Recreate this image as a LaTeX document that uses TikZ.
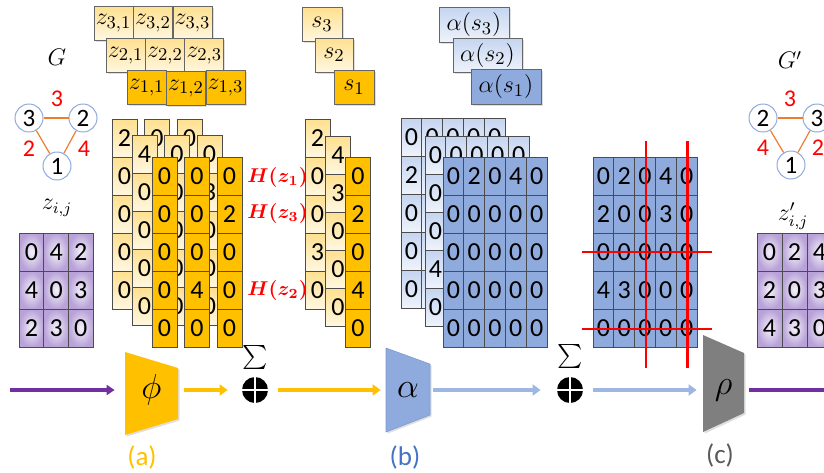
\documentclass[tikz,border=0pt]{standalone}
\usepackage{amsmath}
\usepackage{fontspec}
\setmainfont{Carlito}
\usetikzlibrary{arrows.meta,shadows}
\definecolor{gold}{HTML}{FFC000}
\definecolor{goldlt}{HTML}{FFE08F}
\definecolor{goldpale}{HTML}{FFF7E1}
\definecolor{bluecell}{HTML}{8FAADC}
\definecolor{bluelt}{HTML}{C5D5F0}
\definecolor{bluepale}{HTML}{EEF3FB}
\definecolor{lilac}{HTML}{B8A2D8}
\definecolor{lilacpale}{HTML}{F5F2FA}
\definecolor{edgeor}{HTML}{ED7D31}
\definecolor{linepurple}{HTML}{7030A0}
\definecolor{labblue}{HTML}{4472C4}
\definecolor{labgrey}{HTML}{595959}
\definecolor{rhogrey}{HTML}{7F7F7F}
\definecolor{arrblue}{HTML}{9DB6E2}
\newcommand{\cellgrid}[6]{%
  \foreach \rowvals [count=\r] in {#6} {%
    \foreach \v [count=\c] in \rowvals {%
      \node[#4] (#5-\r-\c) at ({#1+(\c-1)*#3},{#2+(\r-1)*38}) {\v};}}}
\begin{document}
\begin{tikzpicture}[x=0.5pt, y=-0.5pt,
  cellbase/.style={draw=black!70, line width=0.4pt, inner sep=0pt, minimum height=19pt, font=\fontsize{13}{15}\selectfont},
  fillpg/.style={top color=goldlt, bottom color=goldpale},
  fillpb/.style={top color=bluelt, bottom color=bluepale},
  goldcell/.style={cellbase, fill=gold, minimum width=12.5pt},
  palegold/.style={cellbase, fillpg, minimum width=12.5pt},
  bluecellst/.style={cellbase, fill=bluecell, minimum width=10.4pt},
  paleblue/.style={cellbase, fillpb, minimum width=10.4pt},
  lilaccell/.style={cellbase, inner color=lilacpale, outer color=lilac, minimum width=12.4pt},
  topbox/.style={draw=black!60, line width=0.4pt, inner sep=0pt, minimum height=17pt, font=\fontsize{12.5}{14}\selectfont, drop shadow={opacity=.25, shadow xshift=.8pt, shadow yshift=-.8pt}},
  gnode/.style={circle, draw=bluecell, fill=white, line width=0.5pt, minimum size=14pt, inner sep=0pt, font=\fontsize{12.5}{14}\selectfont},
  gedge/.style={draw=edgeor, line width=0.6pt},
  elab/.style={text=red, font=\fontsize{12}{14}\selectfont},
  mlab/.style={font=\fontsize{12}{14}\selectfont},
  hlab/.style={anchor=west, text=red, inner sep=0pt, font=\fontsize{10}{12}\selectfont},
  opnode/.style={inner sep=0pt, minimum height=25pt, font=\fontsize{18}{20}\selectfont},
  sumdot/.style={circle, fill=black, minimum size=13pt, inner sep=0pt, path picture={\draw[white, line width=0.9pt] (path picture bounding box.north) -- (path picture bounding box.south) (path picture bounding box.west) -- (path picture bounding box.east);}},
  violetarr/.style={draw=linepurple, line width=1.6pt, -{Triangle[length=4pt, width=5pt]}},
  goldarr/.style={draw=gold, line width=1.8pt, -{Triangle[length=4pt, width=5.5pt]}},
  bluearr/.style={draw=arrblue, line width=1.8pt, -{Triangle[length=4pt, width=5.5pt]}},
  redline/.style={draw=red, line width=1.4pt},
  tag/.style={font=\fontsize{13.5}{15}\selectfont}]
\useasboundingbox (0,0) rectangle (824,472);
\clip (0,0) rectangle (824,472);
\node[mlab] (gl) at (57,57){$G$};
\node[gnode] (g3) at (29,118){3};
\node[gnode] (g2) at (83,118){2};
\node[gnode] (g1) at (57,166){1};
\draw[gedge] (g3) -- (g2);
\draw[gedge] (g3) -- (g1);
\draw[gedge] (g2) -- (g1);
\node[elab] (w32) at (57,99){3};
\node[elab] (w31) at (29,149){2};
\node[elab] (w21) at (84,149){4};
\node[mlab] (zl) at (57,208){$z_{i,j}$};
\cellgrid{31.4}{252}{24.7}{lilaccell}{zm}{{0,4,2},{4,0,3},{2,3,0}}
\node[topbox, fillpg, minimum width=19.5pt] (z31) at (113.6,23){$z_{3,1}$};
\node[topbox, fillpg, minimum width=19.5pt] (z32) at (153,23){$z_{3,2}$};
\node[topbox, fillpg, minimum width=19.5pt] (z33) at (192.5,23){$z_{3,3}$};
\node[topbox, fillpg, minimum width=19.5pt] (z21) at (125.7,55.5){$z_{2,1}$};
\node[topbox, fillpg, minimum width=19.5pt] (z22) at (165,55.5){$z_{2,2}$};
\node[topbox, fillpg, minimum width=19.5pt] (z23) at (204.3,55.5){$z_{2,3}$};
\node[topbox, fill=gold, minimum width=19.5pt] (z11) at (146.7,87.5){$z_{1,1}$};
\node[topbox, fill=gold, minimum width=19.5pt] (z12) at (186,88.5){$z_{1,2}$};
\node[topbox, fill=gold, minimum width=19.5pt] (z13) at (225.5,87.5){$z_{1,3}$};
\cellgrid{124.5}{138}{32.5}{palegold}{lb}{{2,0,0},{0,0,0},{0,0,0},{0,0,3},{0,0,0}}
\cellgrid{144.5}{154}{32.5}{palegold}{lm}{{4,0,0},{0,0,3},{0,0,0},{0,0,0},{0,0,0}}
\cellgrid{164.5}{176}{32.5}{goldcell}{lf}{{0,0,0},{0,0,2},{0,0,0},{0,4,0},{0,0,0}}
\node[hlab] (h1) at (247,177){$\boldsymbol{H(z_1)}$};
\node[hlab] (h3) at (247,213){$\boldsymbol{H(z_3)}$};
\node[hlab] (h2) at (247,290){$\boldsymbol{H(z_2)}$};
\node[topbox, fillpg, minimum width=20pt] (s3) at (322,24.5){$s_3$};
\node[topbox, fillpg, minimum width=19pt] (s2) at (334,55){$s_2$};
\node[topbox, fill=gold, minimum width=20pt] (s1) at (354,87.5){$s_1$};
\cellgrid{317.5}{138}{0}{palegold}{sb}{{2},{0},{0},{3},{0}}
\cellgrid{338}{155}{0}{palegold}{sm}{{4},{3},{0},{0},{0}}
\cellgrid{358}{176}{0}{goldcell}{sf}{{0},{2},{0},{4},{0}}
\node[topbox, fillpb, minimum width=35pt, minimum height=17.5pt] (a3) at (474,24.5){$\alpha(s_3)$};
\node[topbox, fillpb, minimum width=34.5pt] (a2) at (487.5,55){$\alpha(s_2)$};
\node[topbox, fill=bluecell, minimum width=35pt, minimum height=17.5pt] (a1) at (506,86.5){$\alpha(s_1)$};
\cellgrid{411.4}{137}{20.8}{paleblue}{ab}{{0,0,0,0,0},{2,0,0,3,0},{0,0,0,0,0},{0,0,0,0,0},{0,0,0,0,0}}
\cellgrid{435.4}{155}{20.8}{paleblue}{am}{{0,0,0,0,0},{0,0,0,0,0},{0,0,0,0,0},{4,3,0,0,0},{0,0,0,0,0}}
\cellgrid{453.4}{176}{20.8}{bluecellst}{af}{{0,2,0,4,0},{0,0,0,0,0},{0,0,0,0,0},{0,0,0,0,0},{0,0,0,0,0}}
\cellgrid{603.4}{176}{20.8}{bluecellst}{rg}{{0,2,0,4,0},{2,0,0,3,0},{0,0,0,0,0},{4,3,0,0,0},{0,0,0,0,0}}
\draw[redline] (646,141) -- (646,368);
\draw[redline] (687.5,141) -- (687.5,368);
\draw[redline] (582,252) -- (712,252);
\draw[redline] (582,329) -- (712,329);
\node[mlab] (gr) at (790,60){$G'$};
\node[gnode] (q2) at (763,118){2};
\node[gnode] (q3) at (817,118){3};
\node[gnode] (q1) at (791,165){1};
\draw[gedge] (q2) -- (q3);
\draw[gedge] (q2) -- (q1);
\draw[gedge] (q3) -- (q1);
\node[elab] (v23) at (790,99){3};
\node[elab] (v21) at (763,148){4};
\node[elab] (v31) at (818,148){2};
\node[mlab] (zr) at (793,216){$z'_{i,j}$};
\cellgrid{769.5}{252}{25}{lilaccell}{zn}{{0,2,4},{2,0,3},{4,3,0}}
\fill[gold, drop shadow={opacity=.25, shadow xshift=.8pt, shadow yshift=-.8pt}] (125,352) -- (178,368) -- (178,419) -- (125,435) -- cycle;
\fill[bluecell, draw=labblue!70, line width=0.3pt, drop shadow={opacity=.25, shadow xshift=.8pt, shadow yshift=-.8pt}] (386,348) -- (430,364) -- (430,415) -- (386,432) -- cycle;
\fill[rhogrey, drop shadow={opacity=.25, shadow xshift=.8pt, shadow yshift=-.8pt}] (703,335) -- (744,353) -- (744,413) -- (703,432) -- cycle;
\node[opnode, minimum width=26.5pt] (phi) at (151.5,390){$\phi$};
\node[opnode, minimum width=22pt] (alp) at (408,390){$\alpha$};
\node[opnode, minimum width=20.5pt] (rho) at (723.5,390){$\rho$};
\node[sumdot] (sum1) at (255,390){};
\node[sumdot] (sum2) at (570,390){};
\node[mlab] (sg1) at (255,357){$\sum$};
\node[mlab] (sg2) at (570,356){$\sum$};
\coordinate (pin) at (10,390);
\coordinate (pout) at (824,390);
\draw[violetarr, shorten >=5pt] (pin) -- (phi);
\draw[goldarr, shorten <=3pt, shorten >=7pt] (phi) -- (sum1);
\draw[goldarr, shorten <=5pt, shorten >=2.5pt] (sum1) -- (alp);
\draw[bluearr, shorten <=1.5pt, shorten >=8pt] (alp) -- (sum2);
\draw[bluearr, shorten <=5pt, shorten >=3pt] (sum2) -- (rho);
\draw[draw=linepurple, line width=2pt, shorten <=2.5pt] (rho) -- (pout);
\node[tag, text=gold] (ta) at (142,457){(a)};
\node[tag, text=labblue] (tb) at (405,457){(b)};
\node[tag, text=labgrey] (tc) at (720,455){(c)};
\end{tikzpicture}
\end{document}
